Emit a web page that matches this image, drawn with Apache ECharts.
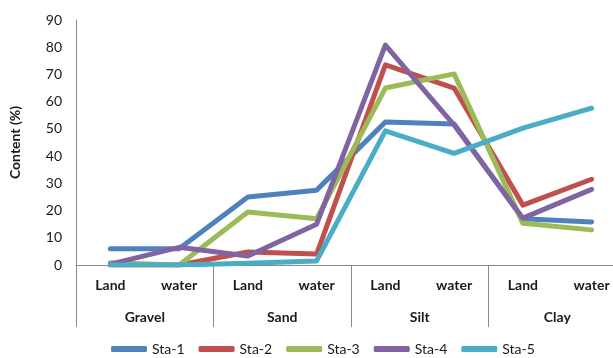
<!DOCTYPE html>
<html>
<head>
<meta charset="utf-8">
<script src="https://cdn.jsdelivr.net/npm/echarts@6/dist/echarts.min.js"></script>
<style>
  html, body { margin: 0; padding: 0; background: #fff; overflow: hidden; }
  #chart { width: 626px; height: 358px; }
</style>
</head>
<body>
<div id="chart"></div>
<script>
// Sampling positions (inner labels) and particle-size groups (outer labels)
const positions = ['Land', 'water', 'Land', 'water', 'Land', 'water', 'Land', 'water'];
const groups = ['Gravel', 'Sand', 'Silt', 'Clay'];

// Content (%) per station, ordered as the positions above
const sta1 = [6, 6, 25, 27.5, 52.5, 51.8, 17, 15.8];
const sta2 = [0, 0, 4.8, 4, 73.5, 65, 22, 31.5];
const sta3 = [0.8, 0, 19.5, 17, 65, 70.2, 15.3, 12.9];
const sta4 = [0.3, 6.5, 3.3, 15, 80.8, 51.4, 17.2, 27.8];
const sta5 = [0, 0, 0.6, 1.5, 49.3, 41, 50.3, 57.6];

const seriesNames = ['Sta-1', 'Sta-2', 'Sta-3', 'Sta-4', 'Sta-5'];
const seriesData = [sta1, sta2, sta3, sta4, sta5];
const colors = ['#4F81BD', '#C0504D', '#9BBB59', '#8064A2', '#4BACC6'];

const font = 'Lato, "Open Sans", sans-serif';
const textColor = '#1a1a1a';
const axisColor = '#8c8c8c';

const chart = echarts.init(document.getElementById('chart'), null, { renderer: 'canvas' });

chart.setOption({
  animation: false,
  color: colors,
  // the plot runs slightly past the right edge of the visible window
  grid: { left: 76, right: 0, top: 20, bottom: 93, containLabel: false },
  legend: {
    data: seriesNames,
    left: 111,
    top: 342,
    padding: 0,
    icon: 'roundRect',
    itemWidth: 36,
    itemHeight: 6,
    itemGap: 14,
    textStyle: { fontFamily: font, fontSize: 14, color: textColor }
  },
  xAxis: [
    {
      type: 'category',
      data: positions,
      position: 'bottom',
      boundaryGap: true,
      axisLine: { show: true, lineStyle: { color: axisColor, width: 1 } },
      axisTick: { show: false },
      axisLabel: { interval: 0, margin: 13, fontFamily: font, fontSize: 14, fontWeight: 'bold', color: textColor }
    },
    {
      type: 'category',
      data: groups,
      position: 'bottom',
      offset: 0,
      boundaryGap: true,
      axisLine: { show: false },
      axisTick: { show: true, length: 62, lineStyle: { color: axisColor, width: 1 } },
      axisLabel: { interval: 0, margin: 45, fontFamily: font, fontSize: 14, fontWeight: 'bold', color: textColor }
    }
  ],
  yAxis: {
    type: 'value',
    min: 0,
    max: 90,
    interval: 10,
    name: 'Content (%)',
    nameLocation: 'middle',
    nameRotate: 90,
    nameGap: 54,
    nameTextStyle: { fontFamily: font, fontSize: 14, fontWeight: 'bold', color: textColor },
    axisLine: { show: true, lineStyle: { color: axisColor, width: 1 } },
    axisTick: { show: false },
    splitLine: { show: false },
    axisLabel: { margin: 14, fontFamily: font, fontSize: 14, color: textColor }
  },
  series: seriesNames.map((name, i) => ({
    name: name,
    type: 'line',
    xAxisIndex: 0,
    data: seriesData[i],
    showSymbol: false,
    symbol: 'none',
    lineStyle: { width: 5, color: colors[i], cap: 'round', join: 'round' },
    itemStyle: { color: colors[i] }
  }))
});
</script>
</body>
</html>
